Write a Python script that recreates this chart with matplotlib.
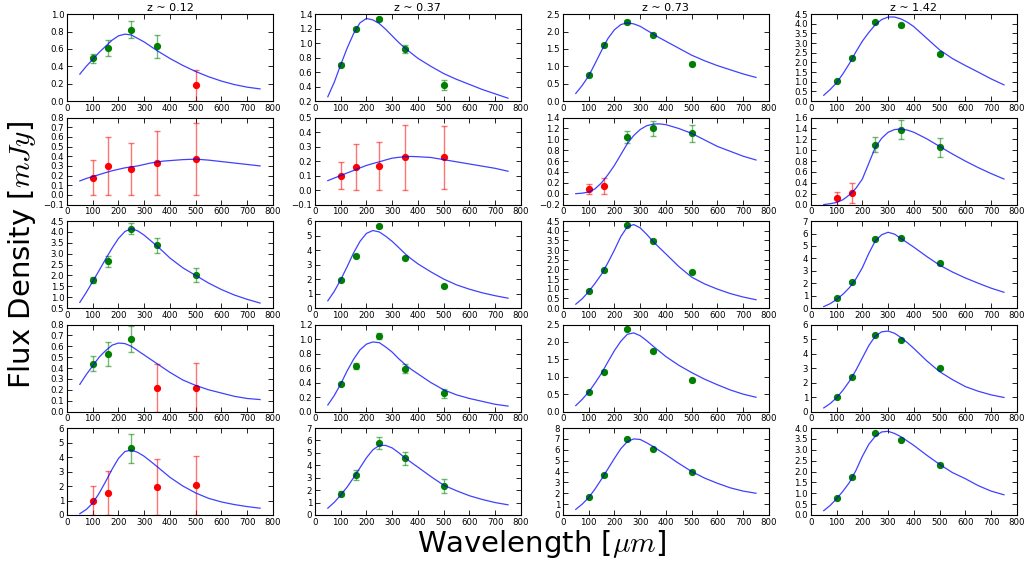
import numpy as np
from matplotlib import pyplot as plt

plt.rcParams['mathtext.fontset'] = 'cm'
plt.rcParams['font.family'] = 'DejaVu Sans'

# redshift bins (one per column)
redshifts = ["0.12", "0.37", "0.73", "1.42"]

# Herschel bands (um)
wave = [100, 160, 250, 350, 500]
# wavelengths the fitted SED is tabulated at
model_wave = [50, 75, 100, 125, 150, 175, 200, 225, 250, 275, 300, 325, 350, 375, 400,
              450, 500, 550, 600, 650, 700, 750]

# stacked fluxes, row by row (4 panels per row)
flux = [
    [0.49, 0.61, 0.82, 0.63, 0.18], [0.70, 1.20, 1.33, 0.92, 0.42],
    [0.75, 1.62, 2.28, 1.91, 1.08], [1.03, 2.25, 4.10, 3.92, 2.45],
    [0.18, 0.30, 0.27, 0.33, 0.37], [0.10, 0.16, 0.165, 0.225, 0.225],
    [0.08, 0.14, 1.05, 1.20, 1.11], [0.12, 0.21, 1.10, 1.38, 1.05],
    [1.78, 2.65, 4.15, 3.38, 2.02], [1.95, 3.60, 5.65, 3.45, 1.52],
    [0.88, 1.95, 4.28, 3.48, 1.87], [0.82, 2.08, 5.58, 5.60, 3.60],
    [0.44, 0.53, 0.67, 0.22, 0.22], [0.38, 0.63, 1.04, 0.59, 0.25],
    [0.57, 1.15, 2.37, 1.75, 0.90], [1.00, 2.35, 5.30, 4.95, 3.00],
    [1.00, 1.52, 4.60, 1.92, 2.05], [1.70, 3.20, 5.80, 4.55, 2.35],
    [1.70, 3.70, 7.00, 6.10, 4.00], [0.80, 1.73, 3.75, 3.47, 2.30],
]
flux_err = [
    [0.05, 0.09, 0.10, 0.13, 0.18], [0.02, 0.02, 0.03, 0.05, 0.07],
    [0.03, 0.04, 0.05, 0.04, 0.04], [0.05, 0.06, 0.07, 0.07, 0.07],
    [0.18, 0.30, 0.27, 0.33, 0.37], [0.095, 0.16, 0.165, 0.225, 0.22],
    [0.09, 0.14, 0.11, 0.13, 0.15], [0.12, 0.19, 0.14, 0.18, 0.18],
    [0.15, 0.25, 0.25, 0.35, 0.33], [0.06, 0.08, 0.10, 0.10, 0.08],
    [0.04, 0.05, 0.06, 0.07, 0.06], [0.07, 0.08, 0.10, 0.10, 0.10],
    [0.07, 0.11, 0.12, 0.22, 0.225], [0.02, 0.04, 0.04, 0.06, 0.06],
    [0.02, 0.03, 0.03, 0.03, 0.04], [0.05, 0.07, 0.08, 0.08, 0.08],
    [1.02, 1.52, 1.02, 1.92, 2.05], [0.20, 0.40, 0.45, 0.50, 0.55],
    [0.08, 0.10, 0.10, 0.10, 0.10], [0.05, 0.06, 0.06, 0.06, 0.08],
]
# 1 = detection (green), 0 = non-detection (red)
detected = [
    [1, 1, 1, 1, 0], [1, 1, 1, 1, 1], [1, 1, 1, 1, 1], [1, 1, 1, 1, 1],
    [0, 0, 0, 0, 0], [0, 0, 0, 0, 0], [0, 0, 1, 1, 1], [0, 0, 1, 1, 1],
    [1, 1, 1, 1, 1], [1, 1, 1, 1, 1], [1, 1, 1, 1, 1], [1, 1, 1, 1, 1],
    [1, 1, 1, 0, 0], [1, 1, 1, 1, 1], [1, 1, 1, 1, 1], [1, 1, 1, 1, 1],
    [0, 0, 1, 0, 0], [1, 1, 1, 1, 1], [1, 1, 1, 1, 1], [1, 1, 1, 1, 1],
]
# best-fit SED at model_wave
model_flux = [
    [0.31, 0.40, 0.48, 0.56, 0.63, 0.70, 0.75, 0.77, 0.76, 0.72, 0.68, 0.63, 0.58, 0.535, 0.49,
     0.41, 0.34, 0.28, 0.23, 0.19, 0.16, 0.14],
    [0.26, 0.46, 0.70, 0.93, 1.13, 1.28, 1.34, 1.32, 1.27, 1.19, 1.10, 1.01, 0.93, 0.86, 0.79,
     0.68, 0.58, 0.50, 0.43, 0.36, 0.30, 0.24],
    [0.22, 0.45, 0.72, 1.08, 1.45, 1.80, 2.05, 2.20, 2.25, 2.22, 2.15, 2.04, 1.93, 1.82, 1.72,
     1.52, 1.32, 1.16, 1.02, 0.90, 0.78, 0.68],
    [0.30, 0.60, 0.95, 1.42, 1.95, 2.55, 3.10, 3.55, 3.95, 4.22, 4.35, 4.35, 4.25, 4.08, 3.85,
     3.25, 2.65, 2.20, 1.84, 1.50, 1.15, 0.84],
    [0.145, 0.17, 0.19, 0.21, 0.23, 0.25, 0.265, 0.28, 0.29, 0.30, 0.315, 0.33, 0.34, 0.35, 0.355,
     0.365, 0.37, 0.36, 0.345, 0.33, 0.315, 0.30],
    [0.065, 0.083, 0.10, 0.118, 0.135, 0.153, 0.17, 0.183, 0.195, 0.208, 0.22, 0.226, 0.23, 0.232, 0.23,
     0.225, 0.21, 0.195, 0.18, 0.165, 0.15, 0.13],
    [0.0, 0.01, 0.03, 0.09, 0.20, 0.35, 0.52, 0.72, 0.92, 1.07, 1.18, 1.25, 1.28, 1.285, 1.27,
     1.20, 1.11, 0.99, 0.87, 0.78, 0.69, 0.62],
    [0.0, 0.015, 0.04, 0.09, 0.18, 0.30, 0.47, 0.76, 1.05, 1.22, 1.33, 1.38, 1.39, 1.37, 1.33,
     1.21, 1.07, 0.93, 0.80, 0.68, 0.57, 0.47],
    [0.76, 1.22, 1.72, 2.23, 2.75, 3.25, 3.70, 4.02, 4.15, 4.05, 3.85, 3.60, 3.35, 3.08, 2.80,
     2.35, 2.00, 1.65, 1.35, 1.10, 0.90, 0.73],
    [0.50, 1.15, 1.95, 2.85, 3.80, 4.60, 5.15, 5.35, 5.25, 4.95, 4.60, 4.18, 3.75, 3.38, 3.05,
     2.50, 2.00, 1.60, 1.30, 1.05, 0.85, 0.68],
    [0.20, 0.48, 0.85, 1.28, 1.75, 2.35, 3.00, 3.70, 4.20, 4.32, 4.15, 3.82, 3.45, 3.12, 2.80,
     2.15, 1.60, 1.25, 0.98, 0.75, 0.57, 0.43],
    [0.12, 0.35, 0.70, 1.12, 1.65, 2.35, 3.25, 4.40, 5.40, 5.90, 6.10, 5.95, 5.60, 5.25, 4.90,
     4.15, 3.45, 2.90, 2.42, 2.00, 1.60, 1.27],
    [0.25, 0.34, 0.42, 0.50, 0.56, 0.61, 0.63, 0.625, 0.60, 0.56, 0.52, 0.48, 0.44, 0.40, 0.36,
     0.29, 0.24, 0.20, 0.17, 0.14, 0.12, 0.11],
    [0.09, 0.22, 0.38, 0.56, 0.72, 0.85, 0.93, 0.96, 0.95, 0.89, 0.82, 0.73, 0.65, 0.58, 0.52,
     0.40, 0.30, 0.23, 0.18, 0.14, 0.10, 0.075],
    [0.17, 0.35, 0.56, 0.82, 1.10, 1.43, 1.75, 2.02, 2.22, 2.26, 2.18, 2.04, 1.88, 1.73, 1.58,
     1.33, 1.12, 0.93, 0.77, 0.62, 0.50, 0.41],
    [0.25, 0.55, 0.95, 1.48, 2.10, 2.85, 3.70, 4.55, 5.20, 5.50, 5.55, 5.40, 5.10, 4.75, 4.35,
     3.50, 2.75, 2.20, 1.72, 1.40, 1.15, 0.97],
    [0.09, 0.38, 0.82, 1.50, 2.30, 3.15, 3.90, 4.38, 4.48, 4.32, 4.05, 3.70, 3.34, 2.97, 2.60,
     2.00, 1.52, 1.15, 0.90, 0.72, 0.58, 0.47],
    [0.55, 1.02, 1.60, 2.25, 3.00, 3.80, 4.60, 5.25, 5.60, 5.60, 5.40, 5.02, 4.60, 4.22, 3.85,
     3.10, 2.40, 1.95, 1.55, 1.25, 1.00, 0.82],
    [0.52, 1.00, 1.60, 2.40, 3.30, 4.25, 5.20, 6.10, 6.75, 7.00, 6.95, 6.65, 6.30, 5.92, 5.55,
     4.75, 4.00, 3.40, 2.92, 2.50, 2.20, 2.00],
    [0.20, 0.44, 0.75, 1.10, 1.50, 2.05, 2.70, 3.25, 3.62, 3.82, 3.85, 3.75, 3.60, 3.40, 3.20,
     2.75, 2.33, 1.95, 1.67, 1.35, 1.10, 0.93],
]
# y axis range and tick step for every panel
y_min = [0, 0.2, 0, 0, -0.1, -0.1, -0.2, 0, 0.5, 0, 0, 0, 0, 0, 0, 0, 0, 0, 0, 0]
y_max = [1.0, 1.4, 2.5, 4.5, 0.8, 0.5, 1.4, 1.6, 4.5, 6, 4.5, 7, 0.8, 1.2, 2.5, 6, 6, 7, 8, 4]
y_step = [0.2, 0.2, 0.5, 0.5, 0.1, 0.1, 0.2, 0.2, 0.5, 1, 0.5, 1, 0.1, 0.2, 0.5, 1, 1, 1, 1, 0.5]


def draw_panel(ax, i):
    x = np.array(wave)
    y = np.array(flux[i])
    e = np.array(flux_err[i])
    det = np.array(detected[i]) == 1
    # detections in green, non-detections in red
    for mask, c in ((det, "g"), (~det, "r")):
        if mask.any():
            ax.errorbar(x[mask], y[mask], yerr=e[mask], fmt="none", ecolor=c,
                        alpha=0.55, elinewidth=1, capsize=2, capthick=1)
            ax.plot(x[mask], y[mask], "o", color=c, mec=c, ms=4.2)
    ax.plot(model_wave, model_flux[i], color="b", lw=0.9, alpha=0.75)

    ax.set_xlim(0, 800)
    ax.set_xticks(np.arange(0, 801, 100))
    n = int(round((y_max[i] - y_min[i]) / y_step[i]))
    ax.set_ylim(y_min[i], y_max[i])
    ax.set_yticks(np.linspace(y_min[i], y_max[i], n + 1))
    ax.tick_params(direction="in", top=True, right=True, length=3.5, width=0.6,
                   labelsize=6.2, pad=2)
    for s in ax.spines.values():
        s.set_linewidth(0.8)


fig, axes = plt.subplots(5, 4, figsize=(10.24, 5.65), dpi=100)
plt.subplots_adjust(left=0.0654, right=0.993, top=0.975, bottom=0.0885,
                    wspace=0.204, hspace=0.19)

for r in range(5):
    for c in range(4):
        draw_panel(axes[r, c], r * 4 + c)
for c in range(4):
    axes[0, c].set_title("z ~ " + redshifts[c], fontsize=8, pad=2)

fig.text(0.529, 0.023, r"Wavelength [$\mu m$]", fontsize=21, ha="center", va="baseline")
fig.text(0.021, 0.548, r"Flux Density [$mJy$]", fontsize=21, rotation=90,
         ha="center", va="center")

plt.savefig("out.png", dpi=100)
